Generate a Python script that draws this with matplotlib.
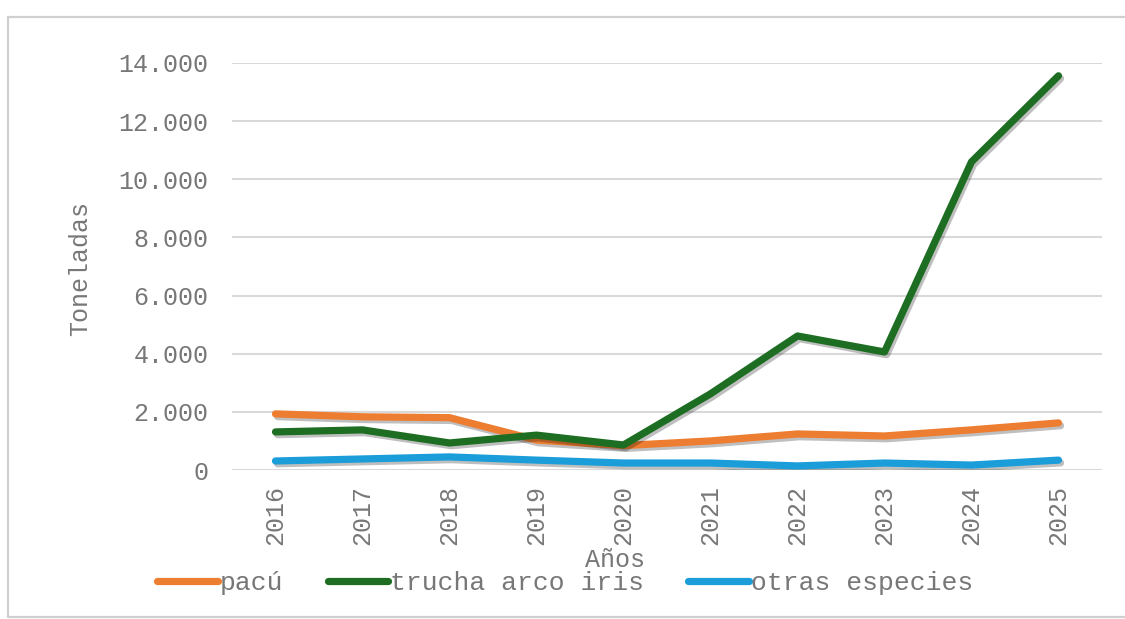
import matplotlib
matplotlib.use('Agg')
import matplotlib.pyplot as plt
import matplotlib.patheffects as pe
from matplotlib.lines import Line2D

# Data
years = ['2016', '2017', '2018', '2019', '2020', '2021', '2022', '2023', '2024', '2025']
pacu = [1930, 1830, 1800, 1030, 840, 1000, 1240, 1170, 1380, 1620]
trucha = [1310, 1380, 930, 1200, 860, 2620, 4610, 4060, 10600, 13560]
otras = [310, 380, 450, 340, 240, 240, 140, 240, 170, 340]
series_names = ['pacú', 'trucha arco iris', 'otras especies']
y_ticks = [0, 2000, 4000, 6000, 8000, 10000, 12000, 14000]

ORANGE = '#ED7D31'
GREEN = '#1D6E22'
BLUE = '#1B9DD9'
GREY_TXT = '#777777'
GRID = '#D9D9D9'

plt.rcParams['font.family'] = ['Liberation Mono', 'DejaVu Sans Mono']
plt.rcParams['text.color'] = GREY_TXT

fig = plt.figure(figsize=(11.25, 6.19), dpi=100)
fig.patch.set_facecolor('white')

# light frame around the chart (left, top, bottom; right side is cut off)
W, H = 1125, 619
fx = [W + 5, 8, 8, W + 5]
fy = [17, 17, 617, 617]
fig.add_artist(Line2D([v / W for v in fx], [1 - v / H for v in fy],
                      color='#D0D0D0', linewidth=1.6, transform=fig.transFigure))

ax = fig.add_axes([232 / W, 1 - 470 / H, (1102 - 232) / W, (470 - 63) / H])

x = list(range(len(years)))
shadow = [pe.SimpleLineShadow(offset=(1.5, -2), shadow_color='black', alpha=0.25), pe.Normal()]
colors = [ORANGE, GREEN, BLUE]
for vals, col, name in zip([pacu, trucha, otras], colors, series_names):
    ax.plot(x, vals, color=col, linewidth=5.2, solid_capstyle='round',
            solid_joinstyle='round', label=name, path_effects=shadow, zorder=3)

ax.set_xlim(-0.5, len(years) - 0.5)
ax.set_ylim(0, 14000)
ax.set_yticks(y_ticks)
ax.set_yticklabels([f'{v:,}'.replace(',', '.') for v in y_ticks])
ax.set_xticks(x)
ax.set_xticklabels(years, rotation=90)
ax.tick_params(axis='both', length=0, labelsize=18, colors=GREY_TXT)
ax.tick_params(axis='y', pad=17)
ax.tick_params(axis='x', pad=11)
ax.grid(axis='y', color=GRID, linewidth=1.5)
ax.set_axisbelow(True)
for s in ax.spines.values():
    s.set_visible(False)

fig.text(80 / W, 1 - 268 / H, 'Toneladas', rotation=90, ha='center', va='center',
         fontsize=18, color=GREY_TXT)
fig.text(615 / W, 1 - 560 / H, 'Años', ha='center', va='center',
         fontsize=18, color=GREY_TXT)

handles = [Line2D([], [], color=c, linewidth=5.2, solid_capstyle='round') for c in colors]
leg = fig.legend(handles, series_names, loc='center', bbox_to_anchor=(565 / W, 1 - 583 / H),
                 ncol=3, frameon=False, fontsize=19, handlelength=2.3, handletextpad=0.05,
                 columnspacing=1.7, borderpad=0)
for t in leg.get_texts():
    t.set_color(GREY_TXT)

fig.savefig('out.png', dpi=100, facecolor='white')
